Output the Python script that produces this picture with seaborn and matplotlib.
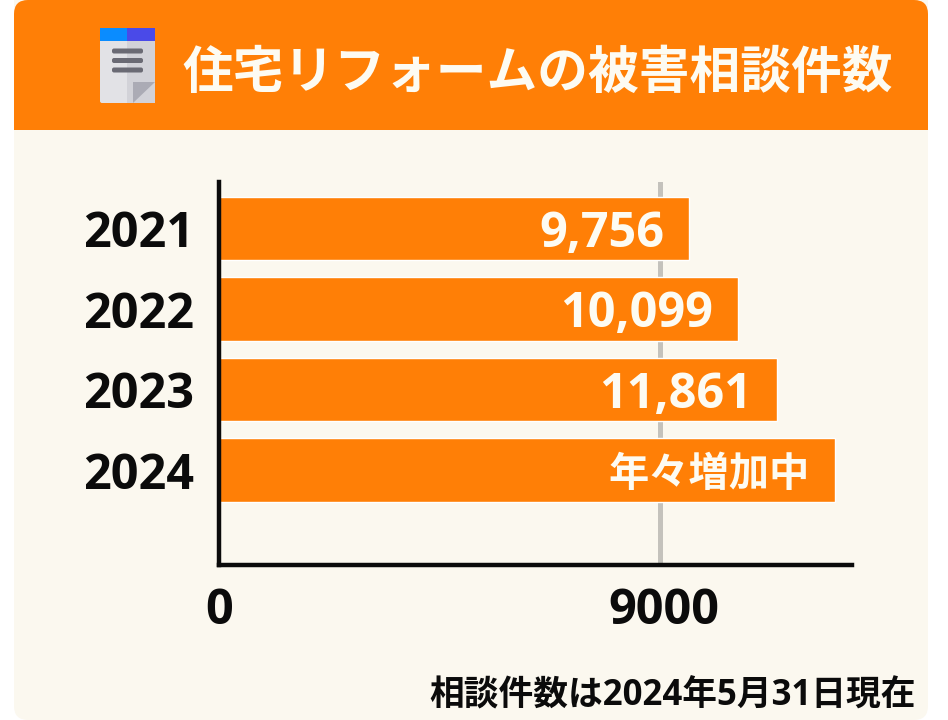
import matplotlib
matplotlib.use("Agg")
import matplotlib.pyplot as plt
from matplotlib.patches import FancyBboxPatch, Rectangle, Polygon
from matplotlib.transforms import ScaledTranslation
import seaborn as sns
import pandas as pd

years = ["2021", "2022", "2023", "2024"]
bar_lengths = [9590, 10590, 11390, 12570]
bar_labels = ["9,756", "10,099", "11,861", "年々増加中"]
x_ticks = [0, 9000]
x_tick_labels = ["0", "9000"]
title = "住宅リフォームの被害相談件数"
footnote = "相談件数は2024年5月31日現在"

ORANGE = "#FF7F06"
CREAM = "#FBF8EF"
FONT = ["Open Sans", "Noto Sans CJK JP", "DejaVu Sans"]
W, H = 948, 720

sns.set_theme(style="white")
plt.rcParams["font.family"] = FONT

fig = plt.figure(figsize=(W / 100, H / 100), dpi=100, facecolor="white")
bg = fig.add_axes([0, 0, 1, 1], zorder=0)
bg.set_xlim(0, W)
bg.set_ylim(H, 0)
bg.axis("off")

# panel and header
bg.add_patch(FancyBboxPatch((24, -20), 894, 730, boxstyle="round,pad=10,rounding_size=14",
                            fc=CREAM, ec="none"))
bg.add_patch(FancyBboxPatch((24, 10), 894, 100, boxstyle="round,pad=10,rounding_size=14",
                            fc=ORANGE, ec="none"))
bg.add_patch(Rectangle((14, 100), 914, 30, fc=ORANGE, ec="none"))

# document icon
bg.add_patch(FancyBboxPatch((101, 29), 53, 73, boxstyle="round,pad=1,rounding_size=2",
                            fc="#E2E2E6", ec="none"))
bg.add_patch(Rectangle((127, 28), 28, 75, fc="#D2D2D8", ec="none"))
bg.add_patch(Rectangle((100, 28), 27, 13, fc="#0A8CFF", ec="none"))
bg.add_patch(Rectangle((127, 28), 28, 13, fc="#4A4AE8", ec="none"))
for yy in (51, 60.5, 70):
    bg.add_patch(FancyBboxPatch((113, yy - 1.5), 29, 3, boxstyle="round,pad=1,rounding_size=2",
                                fc="#6A6A74", ec="none"))
bg.add_patch(Polygon([(133, 103), (133, 82), (155, 82)], fc="#ABABB5", ec="none"))

bg.text(537.5, 74.5, title, color="#FDFBF2", fontsize=36.5, fontweight="bold",
        ha="center", va="center", family=FONT)
bg.text(916, 696, footnote, color="#0B0B0B", fontsize=25, fontweight="bold",
        ha="right", va="center", family=FONT)

# chart
left, right, top, bottom = 219, 852, 182, 565
ax = fig.add_axes([left / W, 1 - bottom / H, (right - left) / W, (bottom - top) / H], zorder=1)
ax.patch.set_alpha(0)
df = pd.DataFrame({"year": years, "value": bar_lengths})
ax.axvline(x_ticks[1], color="#C4C2BC", lw=3.6, zorder=0)
sns.barplot(data=df, y="year", x="value", order=years, color=ORANGE, saturation=1,
            width=0.79, ax=ax, zorder=2)
ax.set_xlim(0, 12918)
ax.set_ylim(3 + 1.18, -0.578)
ax.set_xlabel("")
ax.set_ylabel("")
ax.set_xticks(x_ticks, x_tick_labels)
ax.tick_params(axis="x", length=0, pad=16, labelsize=35)
ax.tick_params(axis="y", length=0, pad=98, labelsize=35)
for lab in ax.get_xticklabels() + ax.get_yticklabels():
    lab.set_fontweight("bold")
    lab.set_color("#0B0B0B")
for lab in ax.get_yticklabels():
    lab.set_ha("left")
nudge = ScaledTranslation(4 / 100, 0, fig.dpi_scale_trans)
lab9000 = ax.get_xticklabels()[1]
lab9000.set_transform(lab9000.get_transform() + nudge)
for s in ("top", "right"):
    ax.spines[s].set_visible(False)
for s in ("left", "bottom"):
    ax.spines[s].set_linewidth(3.2)
    ax.spines[s].set_color("#0B0B0B")

# value labels, right-aligned inside each bar
for i, (v, t) in enumerate(zip(bar_lengths, bar_labels)):
    small = i == 3
    ax.annotate(t, (v, i), xytext=(-18, -4), textcoords="offset points",
                ha="right", va="center", color="#FDFBF2", fontweight="bold",
                fontsize=29 if small else 35, zorder=3, family=FONT)

fig.savefig("out.png", dpi=100, facecolor="white")
